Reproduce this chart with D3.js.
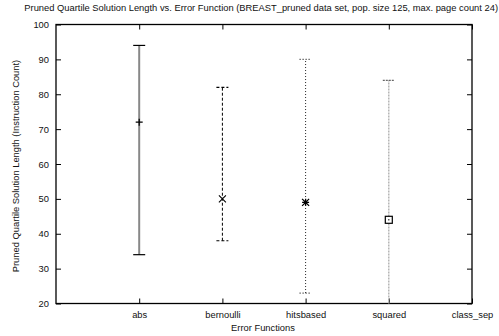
<!DOCTYPE html>
<html>
<head>
<meta charset="utf-8">
<script src="https://cdn.jsdelivr.net/npm/d3@7"></script>
<style>
  html, body { margin: 0; padding: 0; background: #fff; }
  svg { display: block; }
  text { font-family: "Liberation Sans", Arial, sans-serif; fill: #111; }
</style>
</head>
<body>
<svg id="chart" width="499" height="336"></svg>
<script>
// Error functions on the x axis (class_sep has no data)
const categories = ["abs", "bernoulli", "hitsbased", "squared", "class_sep"];
// Quartile summary of pruned solution length per error function
const seriesNames = ["abs", "bernoulli", "hitsbased", "squared"];
const lowValues    = [34, 38, 23, 20];
const medianValues = [72, 50, 49, 44];
const highValues   = [94, 82, 90, 84];
const yTicks = [20, 30, 40, 50, 60, 70, 80, 90, 100];

const svg = d3.select("#chart");
const m = { left: 56, right: 472, top: 24.5, bottom: 303.5 };
const fs = 9.35;

const x = d3.scaleLinear().domain([0, categories.length]).range([m.left, m.right]);
const y = d3.scaleLinear().domain([20, 100]).range([m.bottom, m.top]);

// Title (kept inside the right edge) and axis labels
const title = svg.append("text").attr("y", 11).attr("text-anchor", "end")
  .attr("font-size", fs).text("Pruned Quartile Solution Length vs. Error Function (BREAST_pruned data set, pop. size 125, max. page count 24)");
title.attr("x", 498);
const tw = title.node().getComputedTextLength();
if (tw < 470) title.attr("text-anchor", "middle").attr("x", Math.min(264, 498 - tw / 2));
svg.append("text").attr("transform", "translate(19,166) rotate(-90)").attr("text-anchor", "middle")
  .attr("font-size", fs).text("Pruned Quartile Solution Length (Instruction Count)");
svg.append("text").attr("x", 263).attr("y", 331).attr("text-anchor", "middle")
  .attr("font-size", fs).text("Error Functions");

// Left axis with labels, mirrored ticks on the right
const axLeft = svg.append("g").attr("transform", `translate(${m.left},0)`)
  .call(d3.axisLeft(y).tickValues(yTicks).tickSize(-5).tickPadding(7).tickFormat(d3.format("d")));
const axRight = svg.append("g").attr("transform", `translate(${m.right},0)`)
  .call(d3.axisRight(y).tickValues(yTicks).tickSize(-5).tickFormat(""));
// Bottom axis with category names, mirrored ticks on top
const catIdx = d3.range(1, categories.length + 1);
const axBottom = svg.append("g").attr("transform", `translate(0,${m.bottom})`)
  .call(d3.axisBottom(x).tickValues(catIdx).tickSize(-5).tickPadding(8).tickFormat(i => categories[i - 1]));
const axTop = svg.append("g").attr("transform", `translate(0,${m.top})`)
  .call(d3.axisTop(x).tickValues(catIdx).tickSize(-5).tickFormat(""));

[axLeft, axRight, axBottom, axTop].forEach(g => {
  g.select(".domain").remove();
  g.selectAll(".tick line").attr("stroke", "#000").attr("stroke-width", 1);
  g.selectAll(".tick text").attr("font-size", fs).attr("fill", "#111")
    .attr("font-family", "Liberation Sans, Arial, sans-serif");
});

// Frame
svg.append("rect").attr("x", m.left).attr("y", m.top)
  .attr("width", m.right - m.left).attr("height", m.bottom - m.top)
  .attr("fill", "none").attr("stroke", "#000").attr("stroke-width", 1.3);

// Per-series line styles
const styles = [
  { stroke: "#888", width: 2, dash: null, cap: "#000", capDash: null },
  { stroke: "#000", width: 1, dash: "3,2", cap: "#000", capDash: "3,2" },
  { stroke: "#222", width: 1, dash: "1,2", cap: "#222", capDash: "1,2" },
  { stroke: "#aaa", width: 1.3, dash: "2,1", cap: "#666", capDash: "2,1" }
];

const capW = 6;
const plot = svg.append("g");
seriesNames.forEach((name, i) => {
  const cx = x(i + 1);
  const s = styles[i];
  const g = plot.append("g");
  g.append("line").attr("x1", cx).attr("x2", cx)
    .attr("y1", y(lowValues[i])).attr("y2", y(highValues[i]))
    .attr("stroke", s.stroke).attr("stroke-width", s.width)
    .attr("stroke-dasharray", s.dash);
  [lowValues[i], highValues[i]].forEach(v => {
    if (v <= 20) return;
    g.append("line").attr("x1", cx - capW).attr("x2", cx + capW)
      .attr("y1", y(v)).attr("y2", y(v))
      .attr("stroke", s.cap).attr("stroke-width", 1.2)
      .attr("stroke-dasharray", s.capDash);
  });
  const my = y(medianValues[i]);
  const r = 3.5;
  if (i === 0) {
    g.append("path").attr("d", `M${cx - r},${my}H${cx + r}M${cx},${my - r}V${my + r}`)
      .attr("stroke", "#000").attr("stroke-width", 1.2);
  } else if (i === 1) {
    g.append("path").attr("d", `M${cx - r},${my - r}L${cx + r},${my + r}M${cx - r},${my + r}L${cx + r},${my - r}`)
      .attr("stroke", "#000").attr("stroke-width", 1.1);
  } else if (i === 2) {
    g.append("path").attr("d", `M${cx - r},${my}H${cx + r}M${cx},${my - r}V${my + r}M${cx - r},${my - r}L${cx + r},${my + r}M${cx - r},${my + r}L${cx + r},${my - r}`)
      .attr("stroke", "#000").attr("stroke-width", 1.3);
  } else {
    g.append("rect").attr("x", cx - r).attr("y", my - r).attr("width", 2 * r).attr("height", 2 * r)
      .attr("fill", "#fff").attr("stroke", "#000").attr("stroke-width", 1.2);
    g.append("rect").attr("x", cx - 0.6).attr("y", my - 0.6).attr("width", 1.2).attr("height", 1.2).attr("fill", "#000");
  }
});
</script>
</body>
</html>
